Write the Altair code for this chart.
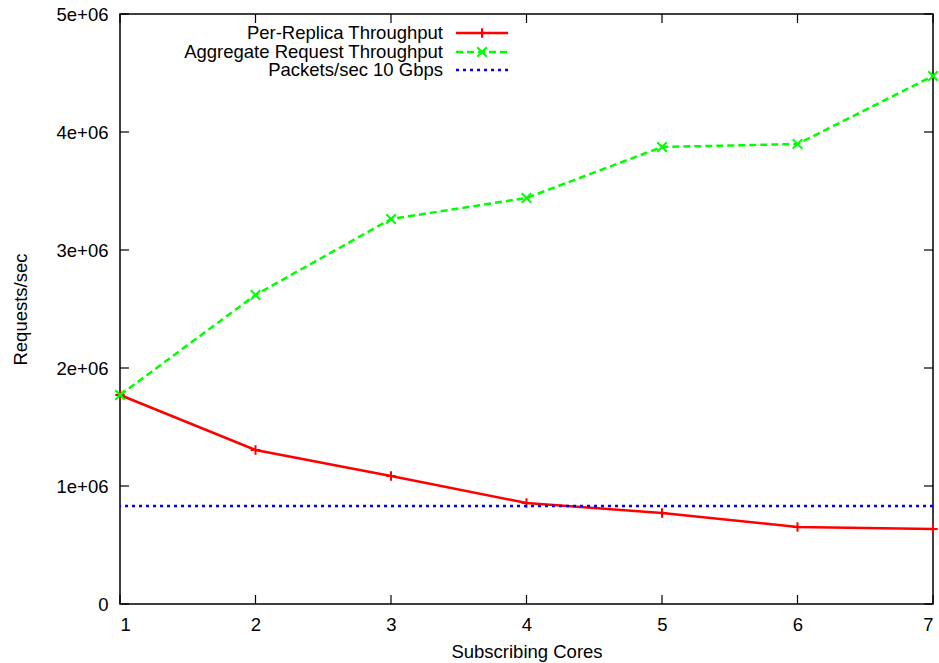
import altair as alt
import pandas as pd

cores = [1, 2, 3, 4, 5, 6, 7]
per_replica = [1771000, 1305000, 1085000, 856000, 771000, 653000, 636000]
aggregate = [1771000, 2619000, 3263000, 3441000, 3873000, 3898000, 4475000]
packets_10g = 830000

x_ticks = [1, 2, 3, 4, 5, 6, 7]
y_ticks = [0, 1000000, 2000000, 3000000, 4000000, 5000000]
y_tick_labels = ["0", "1e+06", "2e+06", "3e+06", "4e+06", "5e+06"]

legend_labels = ["Per-Replica Throughput", "Aggregate Request Throughput", "Packets/sec 10 Gbps"]
colors = ["#ff0000", "#00ff00", "#0000ff"]

FONT = "Liberation Sans"
FS = 18.5
W, H = 813, 590
TK = 9

df_red = pd.DataFrame({"x": cores, "y": per_replica})
df_green = pd.DataFrame({"x": cores, "y": aggregate})
df_blue = pd.DataFrame({"y": [packets_10g]})
df_xt = pd.DataFrame({"x": x_ticks})
df_yt = pd.DataFrame({"y": y_ticks})

xs = alt.Scale(domain=[1, 7], nice=False, zero=False)
ys = alt.Scale(domain=[0, 5000000], nice=False)

label_expr = " : ".join(
    [f"datum.value == {v} ? '{l}'" for v, l in zip(y_ticks, y_tick_labels)]
) + " : ''"

plus = "M-1,0L1,0M0,-1L0,1"
cross = "M-1,-1L1,1M-1,1L1,-1"

red_line = alt.Chart(df_red).mark_line(color=colors[0], strokeWidth=2.5).encode(
    x=alt.X("x:Q", scale=xs, axis=alt.Axis(
        orient="bottom", values=x_ticks, format="d", ticks=False, domain=False,
        grid=False, labelFont=FONT, labelFontSize=FS, labelColor="black",
        labelPadding=11, title="Subscribing Cores", titleFont=FONT,
        titleFontSize=FS, titleFontWeight="normal", titleColor="black",
        titleY=47, titleBaseline="middle")),
    y=alt.Y("y:Q", scale=ys, axis=alt.Axis(
        orient="left", values=y_ticks, labelExpr=label_expr, ticks=False,
        domain=False, grid=False, labelFont=FONT, labelFontSize=FS,
        labelColor="black", labelPadding=12, title="Requests/sec",
        titleFont=FONT, titleFontSize=FS, titleFontWeight="normal",
        titleColor="black", titleX=-100, titleY=H / 2, titleBaseline="middle",
        titleAlign="center", titleAngle=-90)),
)
red_pts = alt.Chart(df_red).mark_point(
    shape=plus, color=colors[0], size=90, strokeWidth=2, filled=False, opacity=1
).encode(x=alt.X("x:Q", scale=xs), y=alt.Y("y:Q", scale=ys))

green_line = alt.Chart(df_green).mark_line(
    color=colors[1], strokeWidth=2.5, strokeDash=[7, 4]
).encode(x=alt.X("x:Q", scale=xs), y=alt.Y("y:Q", scale=ys))
green_pts = alt.Chart(df_green).mark_point(
    shape=cross, color=colors[1], size=90, strokeWidth=2, filled=False, opacity=1
).encode(x=alt.X("x:Q", scale=xs), y=alt.Y("y:Q", scale=ys))

blue_rule = alt.Chart(df_blue).mark_rule(
    color=colors[2], strokeWidth=2.5, strokeDash=[3, 4]
).encode(y=alt.Y("y:Q", scale=ys))

# Inward, mirrored tick marks (gnuplot style)
tick_style = dict(color="black", strokeWidth=1.2)
xt_bottom = alt.Chart(df_xt).mark_rule(**tick_style).encode(
    x=alt.X("x:Q", scale=xs), y=alt.value(H - TK), y2=alt.value(H))
xt_top = alt.Chart(df_xt).mark_rule(**tick_style).encode(
    x=alt.X("x:Q", scale=xs), y=alt.value(0), y2=alt.value(TK))
yt_left = alt.Chart(df_yt).mark_rule(**tick_style).encode(
    y=alt.Y("y:Q", scale=ys), x=alt.value(0), x2=alt.value(TK))
yt_right = alt.Chart(df_yt).mark_rule(**tick_style).encode(
    y=alt.Y("y:Q", scale=ys), x=alt.value(W - TK), x2=alt.value(W))

# Manual gnuplot-style key (labels left, samples right)
key_rows = [19, 38, 56]
df_key = pd.DataFrame({"label": legend_labels, "color": colors, "ky": key_rows})

key_text = alt.Chart(df_key).mark_text(
    align="right", baseline="middle", font=FONT, fontSize=FS, color="black"
).encode(x=alt.value(323), y=alt.Y("ky:Q", scale=None), text="label:N")

def key_line(i, dash):
    kw = dict(color=colors[i], strokeWidth=2.5)
    if dash:
        kw["strokeDash"] = dash
    return alt.Chart(df_key.iloc[[i]]).mark_rule(**kw).encode(
        x=alt.value(336), x2=alt.value(388), y=alt.Y("ky:Q", scale=None))

key_l0 = key_line(0, None)
key_l1 = key_line(1, [7, 4])
key_l2 = key_line(2, [3, 4])
key_p0 = alt.Chart(df_key.iloc[[0]]).mark_point(
    shape=plus, color=colors[0], size=90, strokeWidth=2, filled=False, opacity=1
).encode(x=alt.value(362), y=alt.Y("ky:Q", scale=None))
key_p1 = alt.Chart(df_key.iloc[[1]]).mark_point(
    shape=cross, color=colors[1], size=90, strokeWidth=2, filled=False, opacity=1
).encode(x=alt.value(362), y=alt.Y("ky:Q", scale=None))

chart = alt.layer(
    xt_bottom, xt_top, yt_left, yt_right,
    red_line, red_pts, green_line, green_pts, blue_rule,
    key_text, key_l0, key_l1, key_l2, key_p0, key_p1,
).properties(
    width=W, height=H,
    autosize=alt.AutoSizeParams(type="none"),
    padding={"left": 120, "top": 14, "right": 6, "bottom": 59},
    background="white",
).configure_view(stroke="black", strokeWidth=1.5)

chart.save("out.html", embed_options={"renderer": "svg", "actions": False})
